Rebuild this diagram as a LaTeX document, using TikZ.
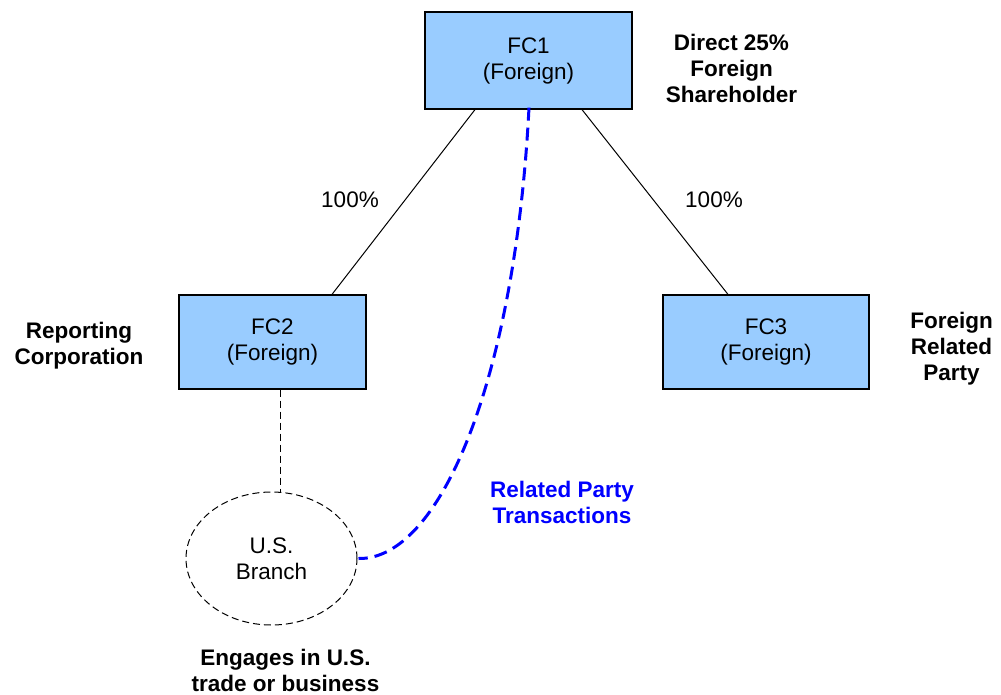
\documentclass[tikz,border=0pt]{standalone}
\usepackage{fontspec}
\setmainfont{Liberation Sans}
\usetikzlibrary{shapes.geometric}
\definecolor{boxblue}{HTML}{99CCFF}
\definecolor{linkblue}{HTML}{0000FF}
\tikzset{
  fcbox/.style={draw=black, line width=1.2pt, fill=boxblue, inner sep=0pt, align=center,
    font=\fontsize{22.5}{26}\selectfont},
  lbl/.style={align=center, inner sep=0pt, font=\fontsize{22.5}{26}\selectfont\bfseries},
  pct/.style={inner sep=0pt, font=\fontsize{22.5}{26}\selectfont},
  own/.style={draw=black, line width=1pt},
  branchline/.style={draw=black, line width=1pt, dash pattern=on 7pt off 4pt},
  rpt/.style={draw=linkblue, line width=3pt, dash pattern=on 13pt off 7pt}
}
\begin{document}
\begin{tikzpicture}[x=1pt,y=-1pt]
\useasboundingbox (0,0) rectangle (1001,694);
\node[fcbox, minimum width=207pt, minimum height=97pt] (FC1) at (528.5,60.5) {FC1\\(Foreign)};
\node[fcbox, minimum width=187pt, minimum height=94pt] (FC2) at (272.5,342) {FC2\\(Foreign)};
\node[fcbox, minimum width=206pt, minimum height=94pt] (FC3) at (766,342) {FC3\\(Foreign)};
\node[ellipse, branchline, minimum width=171pt, minimum height=133pt, inner sep=0pt, align=center,
  font=\fontsize{22.5}{26}\selectfont] (BR) at (271.5,558.5) {U.S.\\Branch};

\node[lbl] (L1) at (731.5,68) {Direct 25\%\\Foreign\\Shareholder};
\node[lbl] (L2) at (79,346) {Reporting\\Corporation};
\node[lbl] (L3) at (951.5,349) {Foreign\\Related\\Party};
\node[lbl, text=linkblue] (L4) at (562,502) {Related Party\\Transactions};
\node[lbl] (L5) at (285.5,670) {Engages in U.S.\\trade or business};

\node[pct] (P1) at (350,200) {100\%};
\node[pct] (P2) at (714,200) {100\%};

\coordinate (a1) at (475,0);
\coordinate (a2) at (332,0);
\coordinate (b1) at (582,0);
\coordinate (b2) at (728,0);
\coordinate (lx) at (280,0);
\coordinate (rx) at (529,0);

\draw[own] (FC1.south -| a1) -- (FC2.north -| a2);
\draw[own] (FC1.south -| b1) -- (FC3.north -| b2);
\draw[branchline] (FC2.south -| lx) -- ([yshift=-1pt]BR.north -| lx);
\draw[rpt] ([yshift=2pt]FC1.south -| rx) .. controls (515,380) and (440,560) .. ([xshift=1pt]BR.east);
\end{tikzpicture}
\end{document}
